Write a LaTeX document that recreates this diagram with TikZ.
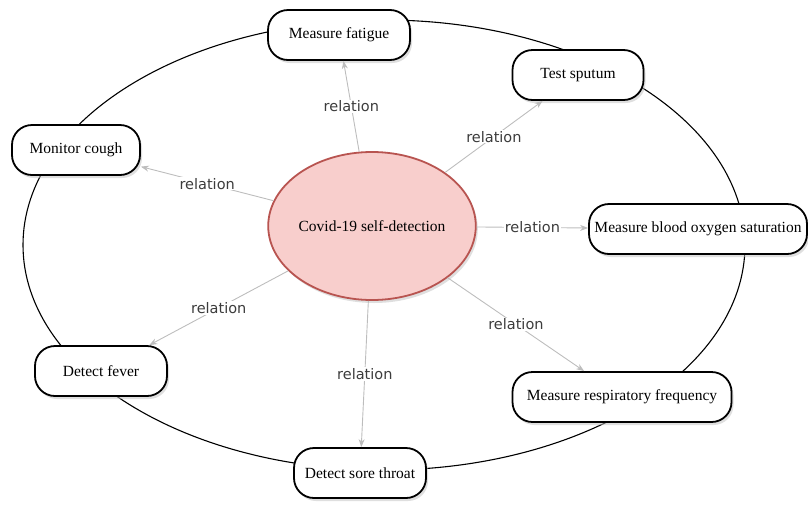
\documentclass[tikz,border=0pt]{standalone}
\usepackage{fontspec}
\setmainfont{Liberation Serif}
\newfontfamily\relfont{DejaVu Sans}
\usetikzlibrary{shapes.geometric,shadows,arrows.meta}
\definecolor{hubfill}{HTML}{F8CECC}
\definecolor{hubline}{HTML}{B85450}
\definecolor{relgray}{HTML}{BDBDBD}
\definecolor{reltext}{HTML}{3C3C3C}
\begin{document}
\begin{tikzpicture}[x=1pt,y=-1pt,
    task/.style={draw,line width=1.8pt,rounded corners=20pt,fill=white,minimum height=50pt,
      inner xsep=3pt,font=\fontsize{15.5}{18}\selectfont,drop shadow={shadow xshift=2pt,shadow yshift=-3pt,fill=black!25}},
    hub/.style={ellipse,draw=hubline,line width=1.8pt,fill=hubfill,minimum width=184pt,minimum height=148pt,
      inner sep=0pt,font=\fontsize{15.5}{18}\selectfont,drop shadow={shadow xshift=2pt,shadow yshift=-3pt,fill=black!25}},
    rel/.style={draw=relgray,line width=0.9pt,-{Stealth[length=8pt,width=6pt]}},
    lbl/.style={fill=white,inner sep=1pt,text=reltext,font=\relfont\fontsize{14.5}{17}\selectfont}]
    \useasboundingbox (0,0) rectangle (808,504);
    % outer ring behind the tasks
    \draw[line width=1.1pt] (384,245) ellipse [x radius=361, y radius=225];
    \node[hub] (hub) at (372,226) {Covid-19 self-detection};
    \node[task,minimum width=142pt] (fatigue) at (339,35) {Measure fatigue};
    \node[task,minimum width=131pt] (sputum) at (578,75) {Test sputum};
    \node[task,minimum width=128pt] (cough) at (76,150) {Monitor cough};
    \node[task,minimum width=218pt] (oxygen) at (698,229) {Measure blood oxygen saturation};
    \node[task,minimum width=132pt] (fever) at (101,371) {Detect fever};
    \node[task,minimum width=219pt] (resp) at (622,397) {Measure respiratory frequency};
    \node[task,minimum width=132pt] (throat) at (360,473) {Detect sore throat};
    \draw[rel] (hub) -- (fatigue) node[lbl,midway] {relation};
    \draw[rel] (hub) -- (sputum) node[lbl,midway] {relation};
    \draw[rel] (hub) -- (cough) node[lbl,midway] {relation};
    \draw[rel] (hub) -- (oxygen) node[lbl,midway] {relation};
    \draw[rel] (hub) -- (fever) node[lbl,midway] {relation};
    \draw[rel] (hub) -- (resp) node[lbl,midway] {relation};
    \draw[rel] (hub) -- (throat) node[lbl,midway] {relation};
\end{tikzpicture}
\end{document}
